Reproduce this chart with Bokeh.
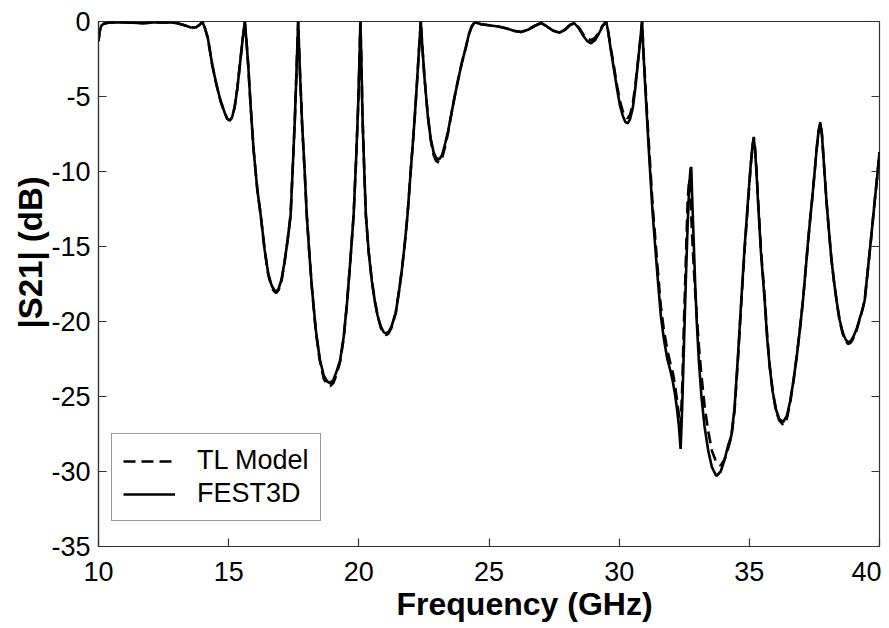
from bokeh.plotting import figure
from bokeh.models import Range1d, FixedTicker, Legend, LegendItem, Title
from bokeh.embed import file_html
from bokeh.resources import INLINE

# ---- data ----
freq = [
    10.00, 10.04, 10.10, 10.20, 10.40, 10.80, 11.30, 11.70, 12.10, 12.60,
    13.00, 13.30, 13.55, 13.75, 13.90, 13.99, 14.08, 14.20, 14.37, 14.53,
    14.69, 14.85, 14.95, 15.04, 15.13, 15.23, 15.33, 15.43, 15.53, 15.62,
    15.68, 15.75, 15.85, 15.96, 16.10, 16.23, 16.38, 16.52, 16.65, 16.75,
    16.83, 16.92, 17.03, 17.15, 17.27, 17.38, 17.46, 17.54, 17.60, 17.67,
    17.73, 17.82, 17.92, 18.00, 18.10, 18.20, 18.35, 18.50, 18.65, 18.78,
    18.90, 19.02, 19.15, 19.28, 19.42, 19.55, 19.68, 19.80, 19.90, 19.97,
    20.02, 20.06, 20.10, 20.14, 20.20, 20.27, 20.38, 20.50, 20.62, 20.72,
    20.84, 20.95, 21.04, 21.14, 21.26, 21.42, 21.55, 21.65, 21.76, 21.87,
    22.00, 22.08, 22.15, 22.24, 22.31, 22.38, 22.44, 22.52, 22.65, 22.76,
    22.87, 22.97, 23.08, 23.20, 23.32, 23.43, 23.54, 23.67, 23.80, 23.95,
    24.10, 24.22, 24.33, 24.45, 24.70, 25.00, 25.35, 25.65, 25.95, 26.23,
    26.50, 26.75, 27.00, 27.20, 27.45, 27.70, 27.92, 28.10, 28.27, 28.45,
    28.62, 28.77, 28.92, 29.07, 29.22, 29.37, 29.50, 29.58, 29.68, 29.80,
    29.92, 30.03, 30.14, 30.24, 30.33, 30.42, 30.52, 30.61, 30.70, 30.80,
    30.88, 30.93, 31.00, 31.08, 31.15, 31.22, 31.29, 31.38, 31.47, 31.60,
    31.72, 31.85, 31.97, 32.06, 32.14, 32.22, 32.29, 32.36, 32.42, 32.49,
    32.56, 32.63, 32.69, 32.74, 32.77, 32.80, 32.86, 32.92, 32.98, 33.06,
    33.16, 33.28, 33.42, 33.56, 33.73, 33.90, 34.05, 34.18, 34.31, 34.43,
    34.56, 34.69, 34.82, 34.95, 35.05, 35.12, 35.17, 35.22, 35.28, 35.33,
    35.45, 35.59, 35.68, 35.78, 35.90, 36.03, 36.15, 36.30, 36.44, 36.57,
    36.70, 36.83, 36.95, 37.06, 37.16, 37.25, 37.33, 37.41, 37.50, 37.58,
    37.66, 37.73, 37.79, 37.87, 37.96, 38.06, 38.15, 38.25, 38.35, 38.47,
    38.60, 38.70, 38.79, 38.90, 39.00, 39.12, 39.22, 39.33, 39.43, 39.55,
    39.68, 39.82, 39.92, 40.00,
]

fest3d_db = [
    -1.3, -0.7, -0.3, -0.15, -0.07, -0.05, -0.08, -0.12, -0.06, -0.05,
    -0.1, -0.25, -0.4, -0.38, -0.2, 0.0, -0.4, -1.1, -2.9, -4.2,
    -5.3, -6.1, -6.5, -6.6, -6.4, -5.7, -4.5, -2.9, -1.3, 0.0,
    -1.2, -2.9, -5.8, -8.6, -11.2, -12.9, -15.2, -16.8, -17.6, -17.9,
    -18.0, -17.8, -17.2, -16.0, -14.5, -12.9, -9.8, -6.6, -3.6, 0.0,
    -3.0, -6.8, -10.0, -12.9, -15.5, -17.8, -20.6, -22.5, -23.6, -24.0,
    -24.1, -23.9, -23.3, -22.6, -21.0, -18.7, -15.8, -12.9, -9.0, -5.8,
    -2.8, 0.0, -2.8, -6.3, -9.5, -12.9, -15.4, -17.3, -18.7, -19.6,
    -20.3, -20.7, -20.8, -20.7, -20.3, -19.4, -17.9, -16.6, -14.9, -12.9,
    -9.8, -8.0, -6.3, -3.9, -1.9, 0.0, -1.7, -3.7, -6.3, -7.8,
    -8.7, -9.1, -9.2, -8.9, -8.1, -7.3, -6.3, -5.1, -4.0, -2.8,
    -1.8, -0.9, -0.35, -0.05, -0.18, -0.25, -0.33, -0.45, -0.62, -0.7,
    -0.55, -0.3, -0.1, -0.3, -0.6, -0.75, -0.55, -0.25, -0.1, -0.45,
    -0.95, -1.3, -1.45, -1.25, -0.8, -0.3, 0.0, -0.7, -1.9, -3.2,
    -4.5, -5.6, -6.3, -6.7, -6.8, -6.5, -5.8, -4.6, -3.1, -1.4,
    0.0, -2.0, -4.3, -6.8, -8.9, -10.9, -12.9, -14.9, -16.9, -19.6,
    -21.2, -22.5, -23.3, -24.0, -24.8, -25.8, -26.9, -28.5, -25.8, -21.5,
    -17.3, -13.6, -11.0, -9.8, -9.7, -11.5, -14.5, -17.5, -20.0, -22.6,
    -25.0, -27.0, -28.6, -29.7, -30.3, -30.0, -29.2, -28.3, -27.6, -25.8,
    -22.4, -18.6, -15.0, -11.9, -9.6, -8.3, -7.8, -8.6, -10.2, -11.9,
    -15.5, -18.6, -21.0, -23.0, -24.7, -25.9, -26.5, -26.7, -26.3, -25.3,
    -23.9, -22.2, -20.4, -18.6, -16.6, -14.8, -13.3, -11.9, -10.2, -8.6,
    -7.3, -6.8, -7.6, -9.6, -11.9, -14.0, -15.8, -17.3, -18.6, -19.9,
    -20.8, -21.2, -21.4, -21.3, -21.0, -20.5, -19.9, -19.3, -18.6, -16.6,
    -14.4, -11.9, -10.2, -8.7,
]

tl_model_db = [
    -1.3, -0.7, -0.3, -0.15, -0.07, -0.05, -0.08, -0.12, -0.06, -0.05,
    -0.1, -0.25, -0.4, -0.38, -0.2, 0.0, -0.4, -1.1, -2.9, -4.2,
    -5.3, -6.1, -6.5, -6.6, -6.4, -5.7, -4.5, -2.9, -1.3, 0.0,
    -1.2, -2.9, -5.8, -8.6, -11.2, -12.9, -15.2, -16.9, -17.7, -18.0,
    -18.1, -17.9, -17.3, -16.0, -14.5, -12.9, -9.8, -6.6, -3.6, 0.0,
    -3.0, -6.8, -10.0, -12.9, -15.5, -17.8, -20.7, -22.6, -23.8, -24.2,
    -24.3, -24.1, -23.5, -22.7, -21.1, -18.7, -15.8, -12.9, -9.0, -5.8,
    -2.8, 0.0, -2.8, -6.3, -9.5, -12.9, -15.4, -17.3, -18.7, -19.6,
    -20.4, -20.8, -20.9, -20.8, -20.4, -19.4, -17.9, -16.6, -14.9, -12.9,
    -9.8, -8.0, -6.3, -3.9, -1.9, 0.0, -1.7, -3.7, -6.3, -7.9,
    -8.9, -9.3, -9.4, -9.1, -8.3, -7.4, -6.3, -5.1, -4.0, -2.8,
    -1.8, -0.9, -0.35, -0.05, -0.18, -0.25, -0.33, -0.45, -0.62, -0.7,
    -0.55, -0.3, -0.1, -0.3, -0.6, -0.75, -0.55, -0.25, -0.1, -0.4,
    -0.85, -1.15, -1.25, -1.1, -0.7, -0.25, 0.0, -0.7, -1.8, -3.0,
    -4.3, -5.3, -6.0, -6.35, -6.45, -6.2, -5.5, -4.4, -3.0, -1.4,
    0.0, -1.9, -4.0, -6.4, -8.4, -10.4, -12.4, -14.3, -16.3, -19.0,
    -20.6, -21.9, -22.8, -23.4, -24.2, -25.2, -26.2, -27.0, -24.5, -20.0,
    -16.0, -12.0, -10.5, -11.8, -13.0, -14.2, -16.2, -18.0, -19.6, -21.6,
    -23.6, -25.6, -27.3, -28.6, -29.4, -29.6, -29.2, -28.5, -27.7, -26.0,
    -22.6, -18.8, -15.2, -12.1, -9.7, -8.3, -7.7, -8.4, -10.0, -11.7,
    -15.3, -18.4, -20.8, -22.9, -24.7, -26.0, -26.6, -26.9, -26.5, -25.4,
    -23.9, -22.2, -20.4, -18.6, -16.6, -14.8, -13.3, -11.9, -10.2, -8.6,
    -7.3, -6.7, -7.5, -9.6, -11.9, -14.0, -15.8, -17.3, -18.6, -20.0,
    -20.9, -21.3, -21.5, -21.4, -21.1, -20.6, -20.0, -19.3, -18.6, -16.6,
    -14.4, -11.9, -10.2, -8.7,
]

assert len(freq) == len(fest3d_db) == len(tl_model_db)

x_ticks = [10, 15, 20, 25, 30, 35, 40]
x_tick_labels = ["10", "15", "20", "25", "30", "35", "40"]
y_ticks = [0, -5, -10, -15, -20, -25, -30, -35]
y_tick_labels = ["0", "-5", "-10", "-15", "-20", "-25", "-30", "-35"]

series_labels = ["TL Model", "FEST3D"]
x_title = "Frequency (GHz)"
y_title = "|S21| (dB)"

FONT = "Liberation Sans"
AX = "#333333"

p = figure(
    width=881, height=622,
    x_range=Range1d(x_ticks[0], x_ticks[-1]), y_range=Range1d(y_ticks[-1], y_ticks[0]),
    output_backend="svg", toolbar_location=None,
    min_border_left=98, min_border_right=2, min_border_top=21, min_border_bottom=76,
    background_fill_color="white", border_fill_color="white",
)
p.xgrid.visible = False
p.ygrid.visible = False
p.outline_line_color = AX
p.outline_line_width = 1.2

for ax, ticks, labels in ((p.xaxis[0], x_ticks, x_tick_labels), (p.yaxis[0], y_ticks, y_tick_labels)):
    ax.ticker = FixedTicker(ticks=ticks)
    ax.major_label_overrides = {t: l for t, l in zip(ticks, labels)}
    ax.minor_tick_line_color = None
    ax.major_tick_in = 8
    ax.major_tick_out = 0
    ax.major_tick_line_color = AX
    ax.major_tick_line_width = 1.2
    ax.axis_line_color = AX
    ax.axis_line_width = 1.2
    ax.major_label_text_font = FONT
    ax.major_label_text_font_size = "27px"
    ax.major_label_text_color = "black"

p.xaxis.major_label_standoff = 15
p.yaxis.major_label_standoff = 8

# mirror ticks on the right side of the box (dash markers half clipped by the frame)
p.scatter([x_ticks[-1]] * len(y_ticks), y_ticks, marker="dash", size=16,
          line_color=AX, line_width=1.2)

r_tl = p.line(freq, tl_model_db, line_color="black", line_width=2.6, line_dash="12 6")
r_fe = p.line(freq, fest3d_db, line_color="black", line_width=2.6)

legend = Legend(
    items=[LegendItem(label=series_labels[0], renderers=[r_tl]),
           LegendItem(label=series_labels[1], renderers=[r_fe])],
    location=(13, 25),
    label_text_font=FONT, label_text_font_size="27px", label_text_color="black",
    glyph_width=52, glyph_height=28, label_height=28, spacing=2,
    padding=11, label_standoff=22, margin=0,
    border_line_color=AX, border_line_width=1.2,
    background_fill_color="white", background_fill_alpha=1.0,
)
p.add_layout(legend)

# axis titles, placed off-centre as in the reference
p.add_layout(Title(text=x_title, align="left", offset=298, standoff=0,
                   text_font=FONT, text_font_size="32px", text_font_style="bold",
                   text_color="black"), "below")
p.add_layout(Title(text=y_title, align="left", offset=218, standoff=0,
                   text_font=FONT, text_font_size="33px", text_font_style="bold",
                   text_color="black"), "left")

open("out.html", "w").write(file_html(p, INLINE))
